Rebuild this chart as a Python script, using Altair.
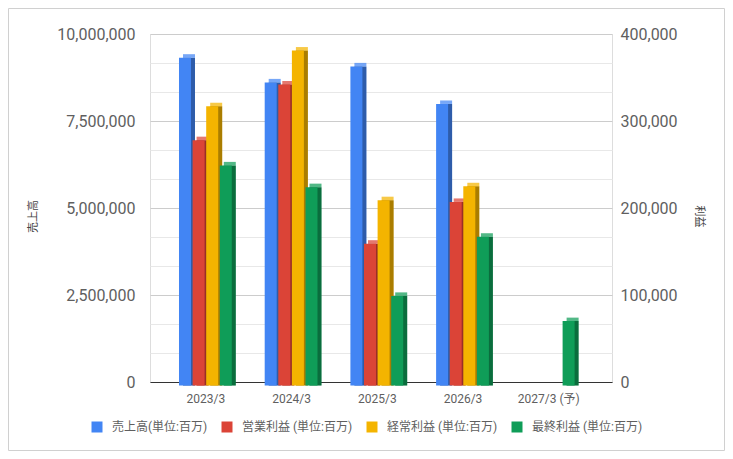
import json
import altair as alt
import pandas as pd

# ---- data ----
categories = ["2023/3", "2024/3", "2025/3", "2026/3", "2027/3 (予)"]
series_names = ["売上高(単位:百万)", "営業利益 (単位:百万)", "経常利益 (単位:百万)", "最終利益 (単位:百万)"]
sales = [9420000, 8710000, 9170000, 8090000, None]
operating = [282000, 346000, 163000, 211000, None]
ordinary = [321000, 385000, 213000, 229000, None]
net = [253000, 228000, 103000, 171000, 74000]
colors = ["#4285F4", "#DB4437", "#F4B400", "#0F9D58"]

rows = []
for si, (name, vals) in enumerate(zip(series_names, [sales, operating, ordinary, net])):
    for ci, v in enumerate(vals):
        if v is None:
            continue
        rows.append({"cat_i": ci, "ser_i": si, "series": name, "value": v,
                     "kind": "sales" if si == 0 else "profit"})
df = pd.DataFrame(rows)

FONT = 'Roboto, "Noto Sans CJK JP", sans-serif'
LABEL_COLOR = "#5f5f5f"
D = 4      # 3D depth horizontal
DV = 3.5   # 3D depth vertical
BW = 12    # bar width

x_enc = alt.X(
    "pos:Q",
    scale=alt.Scale(domain=[-0.588, 4.686], nice=False, zero=False),
    axis=alt.Axis(values=list(range(len(categories))),
                  labelExpr=json.dumps(categories, ensure_ascii=False) + "[datum.value]",
                  title=None, grid=False, ticks=False, domainColor="#333333",
                  domainWidth=1, labelPadding=11, labelFontSize=12,
                  labelColor=LABEL_COLOR, labelFont=FONT),
)

color_enc = alt.Color(
    "series:N",
    scale=alt.Scale(domain=series_names, range=colors),
    legend=alt.Legend(title=None, orient="none", legendX=-59, legendY=387,
                      direction="horizontal", symbolType="square", symbolSize=121,
                      symbolStrokeWidth=0, symbolOpacity=1, labelOffset=9,
                      columnPadding=13, labelFontSize=12, labelColor=LABEL_COLOR,
                      labelFont=FONT, padding=0),
)


def major_test(step):
    return f"abs(datum.value/{step} - round(datum.value/{step})) < 1e-6"


sales_step = 2500000
sales_vals = [i * 10000000 / 12 for i in range(13)]
sales_y = alt.Y(
    "value:Q",
    scale=alt.Scale(domain=[0, 10000000], nice=False),
    axis=alt.Axis(values=sales_vals, orient="left",
                  labelExpr=f"{major_test(sales_step)} ? format(datum.value, ',.0f') : ''",
                  grid=True,
                  gridColor={"condition": {"test": major_test(sales_step), "value": "#cccccc"},
                             "value": "#e8e8e8"},
                  ticks=False, domain=False, labelPadding=15, labelFontSize=16,
                  labelColor=LABEL_COLOR, labelFont=FONT,
                  title="売上高", titleFont=FONT, titleFontSize=11, titleFontWeight="normal",
                  titleColor="#444444", titleX=-117, titleY=182, titleAngle=270,
                  titleBaseline="middle", titleAlign="center"),
)

profit_step = 100000
profit_vals = [i * 400000 / 12 for i in range(13)]
profit_y = alt.Y(
    "value:Q",
    scale=alt.Scale(domain=[0, 400000], nice=False),
    axis=alt.Axis(values=profit_vals, orient="right",
                  labelExpr=f"{major_test(profit_step)} ? format(datum.value, ',.0f') : ''",
                  grid=False, ticks=False, domain=False, labelPadding=8, labelFontSize=16,
                  labelColor=LABEL_COLOR, labelFont=FONT,
                  title="利益", titleFont=FONT, titleFontSize=11, titleFontWeight="normal",
                  titleColor="#444444", titleX=86, titleY=182, titleAngle=90,
                  titleBaseline="middle", titleAlign="center"),
)

base = alt.Chart(df).transform_calculate(
    pos="datum.cat_i + (datum.ser_i - 1.5) * 0.1587"
)


def bar_group(kind, y_enc):
    b = base.transform_filter(f"datum.kind == '{kind}'")
    side = b.mark_bar(orient="vertical", width=BW, xOffset=D, yOffset=DV).encode(
        x=x_enc, y=y_enc, color=color_enc)
    side_dark = b.mark_bar(orient="vertical", width=BW, xOffset=D, yOffset=DV,
                           color="black", opacity=0.3).encode(x=x_enc, y=y_enc)
    top = b.mark_bar(orient="vertical", width=BW, xOffset=D, y2Offset=DV,
                     opacity=0.72).encode(x=x_enc, y=y_enc, y2=alt.Y2("value:Q"),
                                          color=color_enc)
    front = b.mark_bar(orient="vertical", width=BW, yOffset=DV, y2Offset=DV).encode(
        x=x_enc, y=y_enc, color=color_enc)
    return alt.layer(side, side_dark, top, front)


frame = alt.Chart(pd.DataFrame({"f": [0]})).mark_rect(
    fill=None, stroke="#d0d0d0", strokeWidth=1
).encode(x=alt.value(-141.5), x2=alt.value(574.5), y=alt.value(-25.5), y2=alt.value(416.5))

chart = alt.layer(
    frame,
    bar_group("sales", sales_y),
    bar_group("profit", profit_y),
).resolve_scale(y="independent").properties(
    width=462, height=348, autosize="none",
    padding={"left": 142, "top": 26, "right": 113, "bottom": 69},
).configure_view(stroke=None).configure(background="white")

chart.save("out.html", embed_options={"renderer": "svg", "actions": False})
